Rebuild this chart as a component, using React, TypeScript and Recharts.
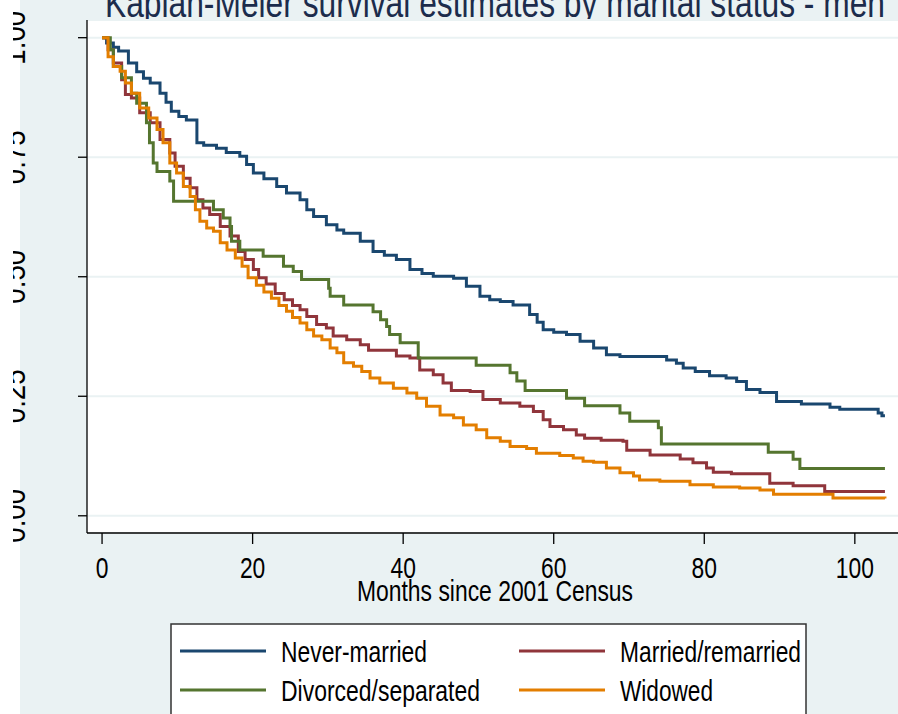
import React from "react";
import { LineChart, Line, XAxis, YAxis, CartesianGrid } from "recharts";

const FONT = "'Liberation Sans Narrow', 'Arial Narrow', 'Liberation Sans', Arial, sans-serif";
const BG = "#eaf2f3";

const title = "Kaplan-Meier survival estimates by marital status - men";
const xTitle = "Months since 2001 Census";

const xTicks = [0, 20, 40, 60, 80, 100];
const yTicks = [0, 0.25, 0.5, 0.75, 1];
const yTickLabels = ["0.00", "0.25", "0.50", "0.75", "1.00"];

const groups = ["Never-married", "Married/remarried", "Divorced/separated", "Widowed"];
const colors = ["#1a476f", "#90353b", "#55752f", "#e37e00"];

// [month, survival] — level starts at month
const neverMarried: [number, number][] = [
  [0, 1], [0.6, 0.989], [1.5, 0.98], [2.2, 0.972], [3.5, 0.947], [4.6, 0.929], [5.5, 0.915],
  [6.4, 0.905], [7.7, 0.884], [8.5, 0.865], [9.2, 0.846], [10.2, 0.835], [11.2, 0.828],
  [12.6, 0.78], [13.5, 0.775], [15.2, 0.769], [16.5, 0.76], [18.3, 0.752], [19.2, 0.735],
  [20.1, 0.717], [21.5, 0.705], [23.2, 0.689], [24.5, 0.675], [26.3, 0.661], [27.2, 0.64],
  [28.1, 0.626], [29.8, 0.609], [31.2, 0.598], [32.1, 0.591], [34.3, 0.574], [36.0, 0.553],
  [37.5, 0.545], [39.1, 0.536], [40.9, 0.515], [42.5, 0.507], [44.0, 0.501], [46.7, 0.497],
  [48.4, 0.48], [50.2, 0.459], [51.5, 0.452], [52.9, 0.448], [54.6, 0.441], [56.8, 0.421],
  [57.8, 0.405], [58.6, 0.389], [60.0, 0.384], [61.7, 0.379], [63.5, 0.365], [65.3, 0.351],
  [67.0, 0.337], [68.8, 0.333], [75.0, 0.326], [76.3, 0.319], [77.2, 0.309], [78.8, 0.302],
  [80.7, 0.293], [82.9, 0.288], [84.3, 0.281], [85.6, 0.264], [87.4, 0.258], [89.6, 0.239],
  [92.9, 0.234], [96.7, 0.227], [98.0, 0.223], [103.1, 0.215], [103.6, 0.209], [104.0, 0.209],
];

const marriedRemarried: [number, number][] = [
  [0, 1], [0.8, 0.975], [1.5, 0.947], [2.6, 0.912], [3.1, 0.881], [3.9, 0.874], [5.0, 0.843],
  [6.4, 0.822], [7.7, 0.787], [9.0, 0.759], [9.7, 0.731], [10.8, 0.706], [11.7, 0.686],
  [12.6, 0.661], [13.4, 0.644], [14.3, 0.63], [15.7, 0.605], [17.0, 0.585], [18.1, 0.553],
  [19.0, 0.536], [20.1, 0.515], [20.8, 0.498], [21.8, 0.485], [23.0, 0.465], [24.2, 0.452],
  [25.3, 0.44], [26.3, 0.431], [27.2, 0.417], [28.5, 0.4], [29.8, 0.393], [30.7, 0.376],
  [32.5, 0.368], [34.3, 0.358], [35.4, 0.346], [39.1, 0.334], [40.9, 0.33], [42.2, 0.305],
  [44.0, 0.295], [45.3, 0.278], [46.4, 0.262], [48.9, 0.26], [50.6, 0.243], [52.9, 0.236],
  [55.5, 0.229], [57.3, 0.218], [58.6, 0.201], [59.5, 0.187], [61.3, 0.18], [63.0, 0.169],
  [64.1, 0.162], [66.3, 0.158], [69.2, 0.156], [69.7, 0.137], [72.8, 0.127], [76.8, 0.119],
  [78.5, 0.111], [80.3, 0.1], [81.2, 0.091], [83.6, 0.088], [88.7, 0.068], [91.8, 0.063],
  [96.0, 0.051], [104.0, 0.051],
];

const divorcedSeparated: [number, number][] = [
  [0, 1], [1.1, 0.975], [1.5, 0.94], [2.6, 0.916], [3.9, 0.884], [4.6, 0.863], [5.9, 0.822],
  [6.3, 0.78], [6.8, 0.738], [7.3, 0.72], [9.0, 0.7], [9.5, 0.658], [14.8, 0.64], [16.1, 0.623],
  [17.0, 0.605], [17.2, 0.574], [18.3, 0.556], [21.4, 0.543], [24.1, 0.522], [25.4, 0.511],
  [26.5, 0.494], [30.1, 0.476], [30.3, 0.459], [32.1, 0.441], [36.0, 0.427], [37.0, 0.41],
  [37.8, 0.396], [38.2, 0.379], [39.6, 0.362], [42.0, 0.33], [49.7, 0.315], [54.2, 0.299],
  [55.1, 0.282], [56.2, 0.262], [61.7, 0.246], [64.1, 0.23], [68.8, 0.215], [70.1, 0.198],
  [73.9, 0.184], [74.3, 0.15], [88.5, 0.133], [91.8, 0.118], [92.7, 0.099], [104.0, 0.099],
];

const widowed: [number, number][] = [
  [0, 1], [0.8, 0.96], [1.5, 0.94], [2.4, 0.93], [3.1, 0.905], [3.9, 0.884], [5.0, 0.853],
  [6.2, 0.832], [7.3, 0.808], [8.1, 0.78], [9.0, 0.738], [9.9, 0.717], [10.8, 0.689],
  [11.7, 0.668], [12.4, 0.64], [13.0, 0.616], [13.9, 0.602], [14.8, 0.595], [15.7, 0.571],
  [16.6, 0.556], [17.7, 0.539], [18.6, 0.522], [19.4, 0.498], [20.5, 0.482], [21.5, 0.468],
  [22.5, 0.455], [23.5, 0.44], [24.5, 0.428], [25.3, 0.415], [26.3, 0.403], [27.2, 0.389],
  [28.1, 0.376], [29.2, 0.368], [30.3, 0.351], [31.2, 0.341], [32.1, 0.32], [33.4, 0.313],
  [34.5, 0.302], [35.6, 0.288], [36.9, 0.278], [38.7, 0.267], [40.5, 0.257], [41.8, 0.246],
  [43.1, 0.229], [44.9, 0.211], [46.7, 0.205], [48.0, 0.19], [49.7, 0.18], [51.1, 0.163],
  [52.9, 0.156], [54.2, 0.145], [56.4, 0.141], [57.7, 0.131], [60.8, 0.126], [62.6, 0.121],
  [63.9, 0.114], [65.3, 0.112], [67.0, 0.1], [68.8, 0.09], [70.6, 0.083], [71.4, 0.075],
  [74.1, 0.072], [78.1, 0.065], [81.2, 0.06], [84.7, 0.058], [87.4, 0.054], [89.2, 0.045],
  [97.1, 0.037], [104.0, 0.036],
];

const seriesPoints = [neverMarried, marriedRemarried, divorcedSeparated, widowed];
const toRows = (pts: [number, number][]) => pts.map(([m, s]) => ({ m, s }));

const XTick = (props: any) => {
  const label = String(props.payload.value);
  return (
    <text
      x={props.x}
      y={578}
      textAnchor="middle"
      fontFamily={FONT}
      fontSize={30}
      fill="#000"
      textLength={12.7 * label.length}
      lengthAdjust="spacingAndGlyphs"
    >
      {label}
    </text>
  );
};

const YTick = (props: any) => {
  const i = yTicks.indexOf(props.payload.value);
  const id = `yclip${i}`;
  return (
    <g>
      <defs>
        <clipPath id={id}>
          <rect x={13} y={0} width={60} height={714} />
        </clipPath>
      </defs>
      <g clipPath={`url(#${id})`}>
        <text
          transform={`translate(25, ${props.y}) rotate(-90)`}
          textAnchor="middle"
          fontFamily={FONT}
          fontSize={31}
          fill="#000"
          textLength={54}
          lengthAdjust="spacingAndGlyphs"
        >
          {yTickLabels[i]}
        </text>
      </g>
    </g>
  );
};

export default function App() {
  return (
    <div
      style={{
        position: "absolute",
        left: 0,
        top: 0,
        width: 898,
        height: 714,
        overflow: "hidden",
        background: BG,
        fontFamily: FONT,
      }}
    >
      <div style={{ position: "absolute", left: 0, top: 0, width: 20, height: 714, background: "#fff" }} />
      <svg width={898} height={40} style={{ position: "absolute", left: 0, top: 0 }}>
        <text
          x={495}
          y={17}
          textAnchor="middle"
          fontFamily={FONT}
          fontSize={40}
          fill="#1c2c4c"
          textLength={780}
          lengthAdjust="spacingAndGlyphs"
        >
          {title}
        </text>
      </svg>
      <div style={{ position: "absolute", left: 0, top: 0 }}>
        <LineChart width={900} height={714} margin={{ top: 20, right: 0, bottom: 0, left: 0 }}>
          <CartesianGrid vertical={false} stroke={BG} strokeWidth={2} fill="#fff" />
          <XAxis
            type="number"
            dataKey="m"
            domain={[-2, 106]}
            ticks={xTicks}
            allowDataOverflow
            height={181}
            tickSize={11}
            axisLine={{ stroke: "#000", strokeWidth: 1.3 }}
            tickLine={{ stroke: "#000", strokeWidth: 1.3 }}
            tick={<XTick />}
            interval={0}
          />
          <YAxis
            type="number"
            domain={[-0.036, 1.037]}
            ticks={yTicks}
            allowDataOverflow
            width={87}
            tickSize={9}
            axisLine={{ stroke: "#000", strokeWidth: 1.3 }}
            tickLine={{ stroke: "#000", strokeWidth: 1.3 }}
            tick={<YTick />}
            interval={0}
          />
          {seriesPoints.map((pts, i) => (
            <Line
              key={groups[i]}
              data={toRows(pts)}
              dataKey="s"
              name={groups[i]}
              type="stepAfter"
              stroke={colors[i]}
              strokeWidth={3}
              dot={false}
              activeDot={false}
              isAnimationActive={false}
            />
          ))}
        </LineChart>
      </div>
      <svg width={898} height={714} style={{ position: "absolute", left: 0, top: 0, pointerEvents: "none" }}>
        <text
          x={495}
          y={601}
          textAnchor="middle"
          fontFamily={FONT}
          fontSize={30}
          fill="#000"
          textLength={276}
          lengthAdjust="spacingAndGlyphs"
        >
          {xTitle}
        </text>
        <rect x={171} y={624} width={635} height={110} fill="#fff" stroke="#333" strokeWidth={1.5} />
        {groups.map((g, i) => {
          const col = i % 2;
          const row = Math.floor(i / 2);
          const lx = col === 0 ? 180 : 519;
          const tx = col === 0 ? 281 : 620;
          const cy = row === 0 ? 651 : 690;
          const widths = [146, 181, 199, 93];
          return (
            <g key={g}>
              <line x1={lx} x2={lx + 86} y1={cy} y2={cy} stroke={colors[i]} strokeWidth={3} />
              <text
                x={tx}
                y={cy + 11}
                fontFamily={FONT}
                fontSize={30}
                fill="#000"
                textLength={widths[i]}
                lengthAdjust="spacingAndGlyphs"
              >
                {g}
              </text>
            </g>
          );
        })}
      </svg>
    </div>
  );
}
